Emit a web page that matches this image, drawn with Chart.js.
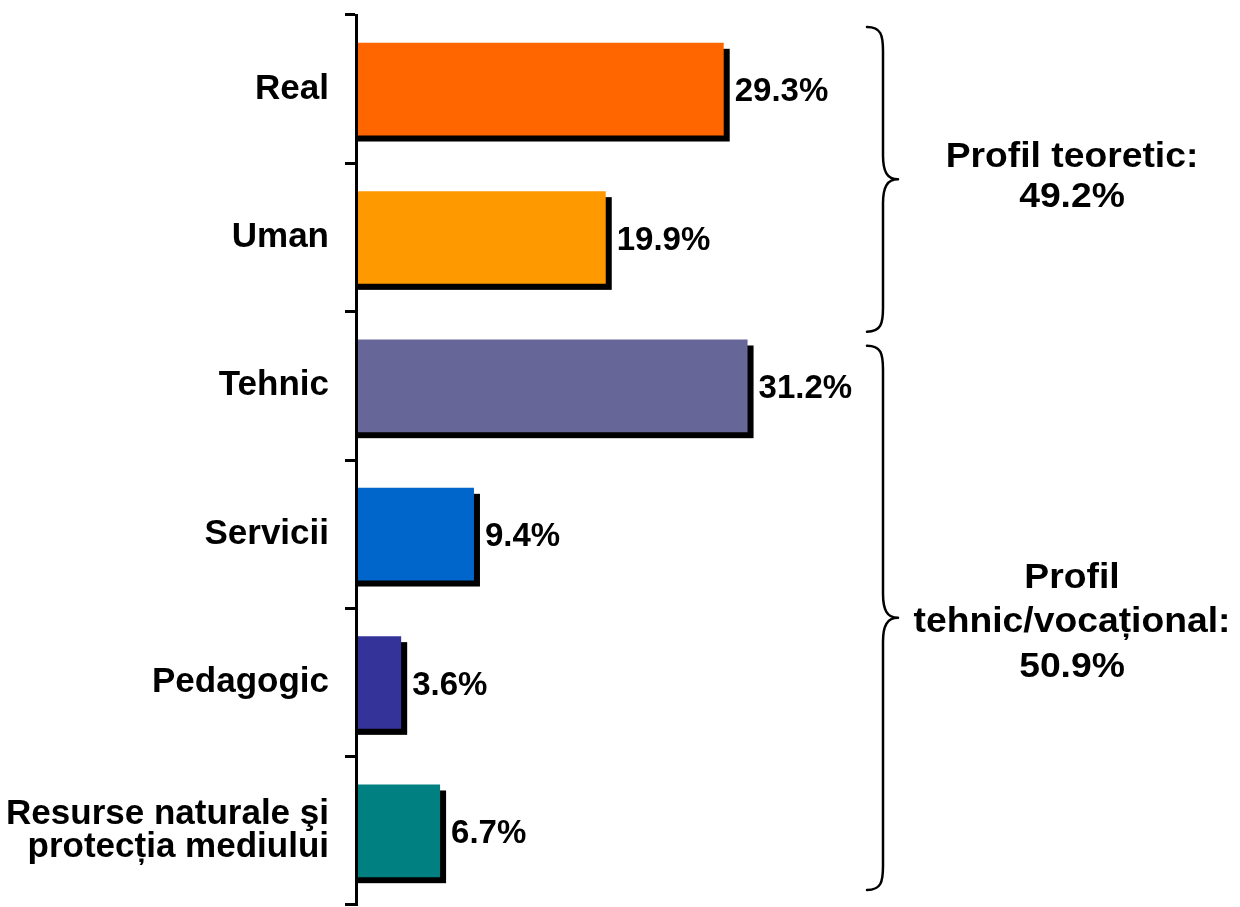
<!DOCTYPE html>
<html lang="ro">
<head>
<meta charset="utf-8">
<title>Distribuția pe profiluri</title>
<script src="https://cdn.jsdelivr.net/npm/chart.js@4.4.1/dist/chart.umd.min.js"></script>
<style>
  html, body { margin: 0; padding: 0; background: #ffffff; }
  #wrap { width: 1240px; height: 907px; }
</style>
</head>
<body>
<div id="wrap"><canvas id="chart" width="1240" height="907"></canvas></div>
<script>
// Categories (profiles / fields of study)
const categories = [
  'Real',
  'Uman',
  'Tehnic',
  'Servicii',
  'Pedagogic',
  ['Resurse naturale şi', 'protecția mediului']
];

// Share of pupils in each field, percent
const shares = [29.3, 19.9, 31.2, 9.4, 3.6, 6.7];

// Bar fill colours
const barColors = ['#FF6600', '#FF9900', '#666699', '#0066CC', '#333399', '#008080'];

// Groups shown with braces on the right: title lines and the category index range they cover
const groupTitles = [['Profil teoretic:'], ['Profil', 'tehnic/vocațional:']];
const groupRanges = [[0, 1], [2, 5]];

const FONT_FAMILY = '"Liberation Sans", Arial, Helvetica, sans-serif';
const LABEL_SIZE = 35;
const VALUE_SIZE = 33;
const GROUP_SIZE = 35;

function pct(v) { return v.toFixed(1) + '%'; }

// Black drop shadow behind each bar
const barShadow = {
  id: 'barShadow',
  beforeDatasetsDraw(chart) {
    const ctx = chart.ctx;
    const meta = chart.getDatasetMeta(0);
    ctx.save();
    ctx.fillStyle = '#000000';
    meta.data.forEach(bar => {
      const p = bar.getProps(['x', 'y', 'base', 'height'], true);
      const top = p.y - p.height / 2;
      ctx.fillRect(p.base + 2, top + 6, (p.x - p.base) + 4, p.height);
    });
    ctx.restore();
  }
};

// Value labels at the end of each bar
const valueLabels = {
  id: 'valueLabels',
  afterDatasetsDraw(chart) {
    const ctx = chart.ctx;
    const meta = chart.getDatasetMeta(0);
    const values = chart.data.datasets[0].data;
    ctx.save();
    ctx.fillStyle = '#000000';
    ctx.font = 'bold ' + VALUE_SIZE + 'px ' + FONT_FAMILY;
    ctx.textAlign = 'left';
    ctx.textBaseline = 'alphabetic';
    meta.data.forEach((bar, i) => {
      const p = bar.getProps(['x', 'y'], true);
      ctx.fillText(pct(values[i]), p.x + 11, p.y + 12);
    });
    ctx.restore();
  }
};

// Curly brace opening to the left, tip pointing right
function drawBrace(ctx, xEnd, xStem, xTip, y0, y1) {
  const ym = (y0 + y1) / 2;
  const c = 24;
  ctx.beginPath();
  ctx.moveTo(xEnd, y0);
  ctx.bezierCurveTo(xStem - 2, y0, xStem, y0 + 8, xStem, y0 + c);
  ctx.lineTo(xStem, ym - c);
  ctx.bezierCurveTo(xStem, ym - 8, xStem + 4, ym, xTip, ym);
  ctx.bezierCurveTo(xStem + 4, ym, xStem, ym + 8, xStem, ym + c);
  ctx.lineTo(xStem, y1 - c);
  ctx.bezierCurveTo(xStem, y1 - 8, xStem - 2, y1, xEnd, y1);
  ctx.stroke();
}

// Braces grouping the categories, with the group totals
const groupBraces = {
  id: 'groupBraces',
  afterDraw(chart) {
    const ctx = chart.ctx;
    const yScale = chart.scales.y;
    const half = (yScale.getPixelForValue(1) - yScale.getPixelForValue(0)) / 2;
    const edge = i => yScale.getPixelForValue(i) - half;
    const right = chart.chartArea.right;
    const xEnd = right + 9, xStem = right + 25, xTip = right + 40;
    const textX = 1072;
    const inset = [[12, 20], [34, -15]];
    const firstOffset = [-12.5, -30];
    const lineGap = [40, 44.5];
    ctx.save();
    ctx.strokeStyle = '#000000';
    ctx.lineWidth = 2.5;
    ctx.lineCap = 'round';
    ctx.lineJoin = 'round';
    ctx.fillStyle = '#000000';
    ctx.font = 'bold ' + GROUP_SIZE + 'px ' + FONT_FAMILY;
    ctx.textAlign = 'center';
    ctx.textBaseline = 'alphabetic';
    groupRanges.forEach(([a, b], g) => {
      const y0 = edge(a) + inset[g][0];
      const y1 = edge(b + 1) + inset[g][1];
      drawBrace(ctx, xEnd, xStem, xTip, y0, y1);
      let total = 0;
      for (let i = a; i <= b; i++) total += shares[i];
      const lines = groupTitles[g].concat([pct(total)]);
      const ym = (y0 + y1) / 2;
      lines.forEach((t, k) => {
        ctx.save();
        ctx.translate(textX, ym + firstOffset[g] + k * lineGap[g]);
        ctx.scale(1.065, 1);
        ctx.fillText(t, 0, 0);
        ctx.restore();
      });
    });
    ctx.restore();
  }
};

new Chart(document.getElementById('chart'), {
  type: 'bar',
  data: {
    labels: categories,
    datasets: [{
      data: shares,
      backgroundColor: barColors,
      borderWidth: 0,
      barPercentage: 0.625,
      categoryPercentage: 1.0
    }]
  },
  options: {
    indexAxis: 'y',
    responsive: false,
    animation: false,
    devicePixelRatio: 1,
    layout: { padding: { top: 15, bottom: 2, left: 0, right: 382 } },
    plugins: {
      legend: { display: false },
      tooltip: { enabled: false }
    },
    scales: {
      x: {
        type: 'linear',
        min: 0,
        max: 40,
        display: false
      },
      y: {
        type: 'category',
        afterFit(scale) {
          scale.width = 356;
          scale.paddingTop = 0;
          scale.paddingBottom = 0;
        },
        grid: {
          display: true,
          offset: true,
          drawOnChartArea: false,
          drawTicks: true,
          tickLength: 11,
          tickWidth: 3,
          tickColor: '#000000'
        },
        border: { display: true, color: '#000000', width: 3, z: 1 },
        ticks: {
          color: '#000000',
          padding: 16,
          font: { family: FONT_FAMILY, size: LABEL_SIZE, weight: 'bold', lineHeight: 0.915 }
        }
      }
    }
  },
  plugins: [barShadow, valueLabels, groupBraces]
});
</script>
</body>
</html>
